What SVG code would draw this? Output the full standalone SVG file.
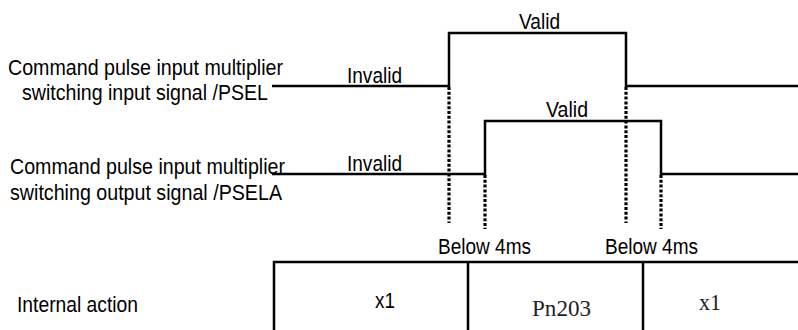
<svg xmlns="http://www.w3.org/2000/svg" width="798" height="330" viewBox="0 0 798 330">
<style>
.t{font-family:"Liberation Sans",Arial,sans-serif;font-size:22px;fill:#000}
.s{font-family:"Liberation Serif","Times New Roman",serif;font-size:23px;fill:#222}
.w{fill:none;stroke:#000;stroke-width:2.5}
.d{fill:none;stroke:#000;stroke-width:3.2;stroke-dasharray:3 1.8}
</style>
<rect width="798" height="330" fill="#fff"/>
<g id="label-psel">
<text class="t" x="8" y="75" textLength="275" lengthAdjust="spacingAndGlyphs">Command pulse input multiplier</text>
<text class="t" x="22" y="100" textLength="246" lengthAdjust="spacingAndGlyphs">switching input signal /PSEL</text>
</g>
<g id="label-psela">
<text class="t" x="10" y="174" textLength="275" lengthAdjust="spacingAndGlyphs">Command pulse input multiplier</text>
<text class="t" x="10" y="200" textLength="272" lengthAdjust="spacingAndGlyphs">switching output signal /PSELA</text>
</g>
<g id="label-internal">
<text class="t" x="17" y="312" textLength="121" lengthAdjust="spacingAndGlyphs">Internal action</text>
</g>
<g id="signal-psel">
<path class="w" d="M272 86H449V33H626V86H798"/>
<text class="t" x="347" y="83" textLength="55" lengthAdjust="spacingAndGlyphs">Invalid</text>
<text class="t" x="519" y="29" textLength="41" lengthAdjust="spacingAndGlyphs">Valid</text>
</g>
<g id="signal-psela">
<path class="w" d="M272 174H485V121H661V174H798"/>
<text class="t" x="347" y="171" textLength="55" lengthAdjust="spacingAndGlyphs">Invalid</text>
<text class="t" x="546" y="117" textLength="42" lengthAdjust="spacingAndGlyphs">Valid</text>
</g>
<g id="connectors">
<path class="d" d="M449 87V223M485 175V229M626 87V223M661 175V229"/>
</g>
<g id="delay-labels">
<text class="t" x="438" y="254" textLength="93" lengthAdjust="spacingAndGlyphs">Below 4ms</text>
<text class="t" x="605" y="254" textLength="93" lengthAdjust="spacingAndGlyphs">Below 4ms</text>
</g>
<g id="internal-table">
<path class="w" d="M274 331V262H798M468 262V331M643 262V331"/>
<text class="t" x="375" y="308" textLength="20" lengthAdjust="spacingAndGlyphs">x1</text>
<text class="s" x="532" y="316" textLength="59" lengthAdjust="spacingAndGlyphs">Pn203</text>
<text class="s" x="699" y="310" textLength="22" lengthAdjust="spacingAndGlyphs">x1</text>
</g>
</svg>
